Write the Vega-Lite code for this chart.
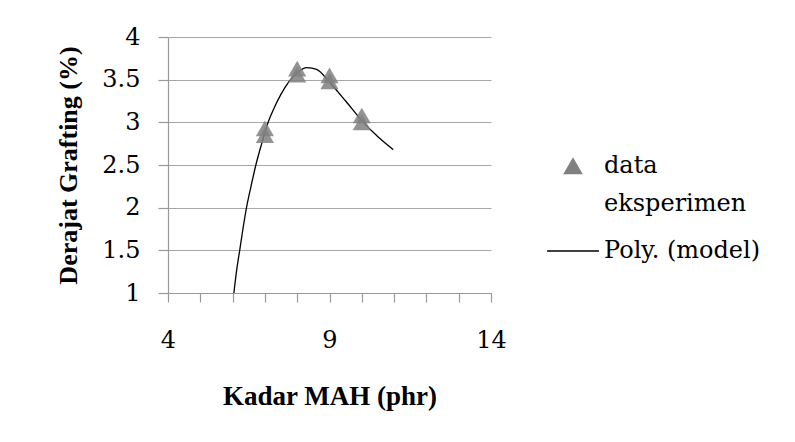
{
  "$schema": "https://vega.github.io/schema/vega-lite/v6.json",
  "width": 323,
  "height": 256,
  "autosize": {"type": "none"},
  "padding": {"left": 168, "top": 37, "right": 304, "bottom": 149},
  "background": "white",
  "config": {
    "view": {"stroke": null},
    "font": "Liberation Serif",
    "axis": {
      "labelFont": "DejaVu Serif",
      "titleFont": "Liberation Serif",
      "labelColor": "black",
      "titleColor": "black",
      "domainColor": "#999999",
      "tickColor": "#999999",
      "gridColor": "#a6a6a6",
      "domainWidth": 1.2,
      "tickWidth": 1.2,
      "gridWidth": 1.2
    }
  },
  "encoding": {
    "x": {
      "field": "x",
      "type": "quantitative",
      "scale": {"domain": [4, 14], "nice": false, "zero": false},
      "axis": {
        "values": [4, 5, 6, 7, 8, 9, 10, 11, 12, 13, 14],
        "labelExpr": "(datum.value == 4 || datum.value == 9 || datum.value == 14) ? datum.label : ''",
        "labelOverlap": false,
        "labelFlush": false,
        "labelFont": "DejaVu Serif",
        "grid": false,
        "tickSize": 9,
        "labelPadding": 26,
        "labelFontSize": 24,
        "title": "Kadar MAH (phr)",
        "titleFontSize": 27,
        "titleFontWeight": "bold",
        "titlePadding": 31
      }
    },
    "y": {
      "field": "y",
      "type": "quantitative",
      "scale": {"domain": [1, 4], "nice": false, "zero": false},
      "axis": {
        "values": [1, 1.5, 2, 2.5, 3, 3.5, 4],
        "format": "~g",
        "labelFont": "DejaVu Serif",
        "grid": true,
        "tickSize": 10,
        "labelPadding": 18,
        "labelFontSize": 24,
        "title": "Derajat Grafting (%)",
        "titleFontSize": 26,
        "titleFontWeight": "bold",
        "titlePadding": 20
      }
    },
    "color": {
      "field": "series",
      "type": "nominal",
      "scale": {"domain": ["data eksperimen", "Poly. (model)"], "range": ["#808080", "#000000"]},
      "legend": {
        "title": null,
        "orient": "none",
        "legendX": 378,
        "legendY": 102,
        "labelFont": "DejaVu Serif",
        "labelFontSize": 24,
        "labelLimit": 400,
        "labelColor": "black",
        "symbolSize": 300,
        "rowPadding": 8,
        "labelOffset": 4,
        "labelExpr": "datum.label == 'data eksperimen' ? ['data', 'eksperimen'] : datum.label",
        "encode": {
          "labels": {
            "update": {
              "lineHeight": {"value": 38}
            }
          },
          "symbols": {
            "update": {
              "shape": {"signal": "datum.value == 'data eksperimen' ? 'triangle-up' : 'stroke'"},
              "fill": {"signal": "datum.value == 'data eksperimen' ? '#808080' : 'transparent'"},
              "stroke": {"signal": "datum.value == 'data eksperimen' ? 'transparent' : '#000000'"},
              "strokeWidth": {"value": 1.3},
              "size": {"signal": "datum.value == 'data eksperimen' ? 300 : 2700"}
            }
          }
        }
      }
    }
  },
  "layer": [
    {
      "data": {
        "values": [
          {"x": 6.04, "y": 1.0, "series": "Poly. (model)"},
          {"x": 6.12, "y": 1.25, "series": "Poly. (model)"},
          {"x": 6.22, "y": 1.5, "series": "Poly. (model)"},
          {"x": 6.32, "y": 1.75, "series": "Poly. (model)"},
          {"x": 6.43, "y": 2.0, "series": "Poly. (model)"},
          {"x": 6.57, "y": 2.25, "series": "Poly. (model)"},
          {"x": 6.72, "y": 2.5, "series": "Poly. (model)"},
          {"x": 6.9, "y": 2.75, "series": "Poly. (model)"},
          {"x": 7.1, "y": 3.0, "series": "Poly. (model)"},
          {"x": 7.3, "y": 3.18, "series": "Poly. (model)"},
          {"x": 7.5, "y": 3.33, "series": "Poly. (model)"},
          {"x": 7.75, "y": 3.48, "series": "Poly. (model)"},
          {"x": 8.0, "y": 3.58, "series": "Poly. (model)"},
          {"x": 8.3, "y": 3.64, "series": "Poly. (model)"},
          {"x": 8.6, "y": 3.62, "series": "Poly. (model)"},
          {"x": 9.0, "y": 3.47, "series": "Poly. (model)"},
          {"x": 9.5, "y": 3.25, "series": "Poly. (model)"},
          {"x": 10.0, "y": 3.02, "series": "Poly. (model)"},
          {"x": 10.5, "y": 2.83, "series": "Poly. (model)"},
          {"x": 10.97, "y": 2.68, "series": "Poly. (model)"}
        ]
      },
      "mark": {"type": "line", "interpolate": "monotone", "strokeWidth": 1.3}
    },
    {
      "data": {
        "values": [
          {"x": 7, "y": 2.93, "series": "data eksperimen"},
          {"x": 7, "y": 2.85, "series": "data eksperimen"},
          {"x": 8, "y": 3.63, "series": "data eksperimen"},
          {"x": 8, "y": 3.56, "series": "data eksperimen"},
          {"x": 9, "y": 3.55, "series": "data eksperimen"},
          {"x": 9, "y": 3.48, "series": "data eksperimen"},
          {"x": 10, "y": 3.08, "series": "data eksperimen"},
          {"x": 10, "y": 3.0, "series": "data eksperimen"}
        ]
      },
      "mark": {"type": "point", "shape": "triangle-up", "filled": true, "size": 330, "opacity": 0.85}
    }
  ]
}
